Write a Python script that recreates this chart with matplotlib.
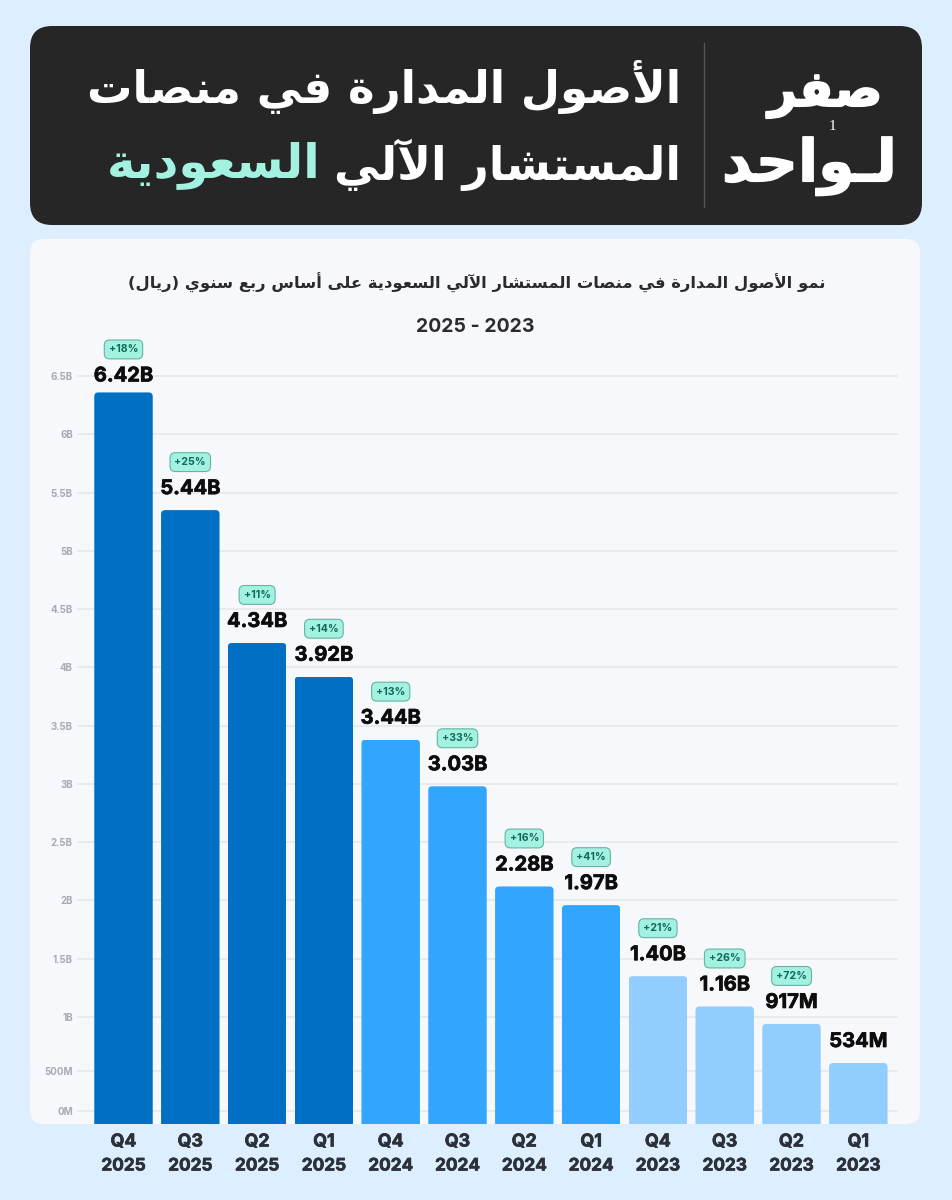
#!/usr/bin/env python3
from __future__ import annotations

import matplotlib

matplotlib.use("Agg")
import matplotlib.patheffects as pe
import matplotlib.pyplot as plt
from matplotlib.patches import FancyBboxPatch
from matplotlib.transforms import IdentityTransform

QUARTERS = ["Q4", "Q3", "Q2", "Q1", "Q4", "Q3", "Q2", "Q1", "Q4", "Q3", "Q2", "Q1"]
YEARS = ["2025", "2025", "2025", "2025", "2024", "2024", "2024", "2024", "2023", "2023", "2023", "2023"]
# heights as they stand against the gridlines, the printed labels do not quite agree with them
BAR_HEIGHTS = [6.36, 5.35, 4.21, 3.92, 3.38, 2.98, 2.12, 1.96, 1.35, 1.09, 0.94, 0.605]
VALUE_LABELS = ["6.42B", "5.44B", "4.34B", "3.92B", "3.44B", "3.03B", "2.28B", "1.97B", "1.40B", "1.16B", "917M", "534M"]
GROWTH_LABELS = ["+18%", "+25%", "+11%", "+14%", "+13%", "+33%", "+16%", "+41%", "+21%", "+26%", "+72%", None]
BAR_COLORS = ["#006fc4"] * 4 + ["#32a6ff"] * 4 + ["#91ceff"] * 4
# the axis in the picture is uneven at the bottom: 0M and 500M are not at scale
TICK_POSITIONS = [0.19, 0.54, 1, 1.5, 2, 2.5, 3, 3.5, 4, 4.5, 5, 5.5, 6, 6.5]
TICK_LABELS = ["0M", "500M", "1B", "1.5B", "2B", "2.5B", "3B", "3.5B", "4B", "4.5B", "5B", "5.5B", "6B", "6.5B"]

TITLE_LINE_1 = "الأصول المدارة في منصات"
TITLE_LINE_2 = "المستشار الآلي"
TITLE_ACCENT = "السعودية"
SUBTITLE = "نمو الأصول المدارة في منصات المستشار الآلي السعودية على أساس ربع سنوي (ريال)"
DATE_RANGE = "2025 - 2023"
LOGO_TOP = "صفر"
LOGO_BOTTOM = "لـواحد"

LATIN_FONT = "Inter"
ARABIC_FONT = "DejaVu Sans"
PAGE = "#ddefff"
CARD = "#f7f8fb"
DARK = "#262626"
MINT = "#a3f1e0"

W, H = 953, 1200

# unicode start of the presentation forms: isolated, final, and initial, medial if dual joining
FORMS = {
    "ء": (0xFE80, 1), "آ": (0xFE81, 2), "أ": (0xFE83, 2), "ؤ": (0xFE85, 2), "إ": (0xFE87, 2),
    "ئ": (0xFE89, 4), "ا": (0xFE8D, 2), "ب": (0xFE8F, 4), "ة": (0xFE93, 2), "ت": (0xFE95, 4),
    "ث": (0xFE99, 4), "ج": (0xFE9D, 4), "ح": (0xFEA1, 4), "خ": (0xFEA5, 4), "د": (0xFEA9, 2),
    "ذ": (0xFEAB, 2), "ر": (0xFEAD, 2), "ز": (0xFEAF, 2), "س": (0xFEB1, 4), "ش": (0xFEB5, 4),
    "ص": (0xFEB9, 4), "ض": (0xFEBD, 4), "ط": (0xFEC1, 4), "ظ": (0xFEC5, 4), "ع": (0xFEC9, 4),
    "غ": (0xFECD, 4), "ف": (0xFED1, 4), "ق": (0xFED5, 4), "ك": (0xFED9, 4), "ل": (0xFEDD, 4),
    "م": (0xFEE1, 4), "ن": (0xFEE5, 4), "ه": (0xFEE9, 4), "و": (0xFEED, 2), "ى": (0xFEEF, 2),
    "ي": (0xFEF1, 4),
}
LAM_ALEF = {"آ": 0xFEF5, "أ": 0xFEF7, "إ": 0xFEF9, "ا": 0xFEFB}
KASHIDA = "ـ"


def shape_arabic(text: str) -> str:
    """matplotlib has no Arabic shaping, so pick joined forms and lay them out right to left."""
    units = []
    i = 0
    while i < len(text):
        if text[i] == "ل" and text[i + 1 : i + 2] in LAM_ALEF and i + 1 < len(text):
            units.append(("lig", text[i + 1]))
            i += 2
        else:
            units.append(("chr", text[i]))
            i += 1

    def joins_forward(unit) -> bool:
        kind, char = unit
        return kind == "chr" and (char == KASHIDA or FORMS.get(char, (0, 0))[1] == 4)

    def joins_back(unit) -> bool:
        kind, char = unit
        return kind == "lig" or char == KASHIDA or FORMS.get(char, (0, 0))[1] >= 2

    out = []
    for n, unit in enumerate(units):
        kind, char = unit
        prev_joins = n > 0 and joins_forward(units[n - 1]) and joins_back(unit)
        next_joins = n + 1 < len(units) and joins_forward(unit) and joins_back(units[n + 1])
        if kind == "lig":
            out.append(chr(LAM_ALEF[char] + (1 if prev_joins else 0)))
        elif char in FORMS:
            start, count = FORMS[char]
            if count == 1:
                offset = 0
            elif count == 2:
                offset = 1 if prev_joins else 0
            else:
                offset = {(False, False): 0, (True, False): 1, (False, True): 2, (True, True): 3}[
                    (prev_joins, next_joins)
                ]
            out.append(chr(start + offset))
        else:
            out.append({"(": ")", ")": "("}.get(char, char))
    return "".join(reversed(out))


def fit_width(fig, text, width_px: float) -> None:
    renderer = fig.canvas.get_renderer()
    current = text.get_window_extent(renderer).width
    text.set_fontsize(text.get_fontsize() * width_px / current)


def heavier(width: float, color: str) -> list:
    return [pe.withStroke(linewidth=width, foreground=color)]


def rounded_box(ax, x0, y0, x1, y1, radius, **kwargs):
    box = FancyBboxPatch(
        (x0, y0), x1 - x0, y1 - y0,
        boxstyle=f"round,pad=0,rounding_size={radius}",
        **kwargs,
    )
    ax.add_patch(box)
    return box


def draw_page(fig, page) -> None:
    rounded_box(page, 30, 26, 922, 225, 22, facecolor=DARK, edgecolor="none")
    rounded_box(page, 30, 239, 920, 1124, 14, facecolor=CARD, edgecolor="none")
    page.plot([704, 704], [43, 207], color="#565656", linewidth=1)

    line1 = page.text(681, 87, shape_arabic(TITLE_LINE_1), color="white", ha="right", va="center",
                      family=ARABIC_FONT, weight="bold", fontsize=30)
    fit_width(fig, line1, 593)
    line2 = page.text(681, 165, shape_arabic(TITLE_LINE_2), color="white", ha="right", va="center",
                      family=ARABIC_FONT, weight="bold", fontsize=30)
    fit_width(fig, line2, 346)
    accent = page.text(321, 165, shape_arabic(TITLE_ACCENT), color=MINT, ha="right", va="center",
                       family=ARABIC_FONT, weight="bold", fontsize=30)
    fit_width(fig, accent, 214)

    logo_top = page.text(882, 94, shape_arabic(LOGO_TOP), color="white", ha="right", va="center",
                         family=ARABIC_FONT, weight="bold", fontsize=30,
                         path_effects=heavier(1.5, "white"))
    fit_width(fig, logo_top, 114)
    logo_bottom = page.text(897, 166, shape_arabic(LOGO_BOTTOM), color="white", ha="right", va="center",
                            family=ARABIC_FONT, weight="bold", fontsize=30,
                            path_effects=heavier(1.0, "white"))
    fit_width(fig, logo_bottom, 175)
    page.text(832, 127, "1", color="white", ha="center", va="center",
              family="Liberation Serif", fontsize=11)

    subtitle = page.text(477, 283, shape_arabic(SUBTITLE), color="#2b2b2b", ha="center", va="center",
                         family=ARABIC_FONT, weight="bold", fontsize=12)
    fit_width(fig, subtitle, 696)
    page.text(475, 327, DATE_RANGE, color="#2b2b2b", ha="center", va="center",
              family=LATIN_FONT, weight="bold", fontsize=14)

    for i, (quarter, year) in enumerate(zip(QUARTERS, YEARS)):
        x = 123.5 + 66.8 * i
        page.text(x, 1142, quarter, color="#2c3038", ha="center", va="center",
                  family=LATIN_FONT, weight="bold", fontsize=12.8,
                  path_effects=heavier(0.5, "#2c3038"))
        page.text(x, 1166, year, color="#2c3038", ha="center", va="center",
                  family=LATIN_FONT, weight="bold", fontsize=12.4,
                  path_effects=heavier(0.5, "#2c3038"))


def round_bar_tops(ax, bars, radius: float = 4) -> None:
    for bar in bars:
        box = bar.get_window_extent()
        clip = FancyBboxPatch(
            (box.x0, box.y0 - 20), box.width, box.height + 20,
            boxstyle=f"round,pad=0,rounding_size={radius}",
            transform=IdentityTransform(),
        )
        bar.set_clip_path(clip)


def draw_chart(fig) -> None:
    # axes spans 77..898 px across and 340..1124 px down
    ax = fig.add_axes([77 / W, 1 - 1124 / H, 821 / W, 784 / H])
    ax.patch.set_visible(False)
    ax.set_xlim(-0.696, 11.594)
    ax.set_ylim(0.0815, 6.81)

    bars = ax.bar(range(len(BAR_HEIGHTS)), BAR_HEIGHTS, width=0.875, color=BAR_COLORS, zorder=3)
    round_bar_tops(ax, bars)

    ax.set_xticks([])
    ax.set_yticks(TICK_POSITIONS, TICK_LABELS)
    ax.tick_params(axis="y", length=0, pad=3, labelsize=7, labelcolor="#a8abb2")
    for label in ax.get_yticklabels():
        label.set_family(LATIN_FONT)
        label.set_fontweight("bold")
    ax.grid(axis="y", color="#e5e7eb", linewidth=1.1, zorder=1)
    ax.set_axisbelow(True)
    for spine in ax.spines.values():
        spine.set_visible(False)

    for i, (height, value, growth) in enumerate(zip(BAR_HEIGHTS, VALUE_LABELS, GROWTH_LABELS)):
        label_gap = 16 if i == 0 else 21
        ax.annotate(value, (i, height), xytext=(0, label_gap), textcoords="offset pixels",
                    ha="center", va="center", family=LATIN_FONT, weight="bold", fontsize=14.5,
                    color="#0d0d0d", zorder=5, path_effects=heavier(0.5, "#0d0d0d"))
        if growth is None:
            continue
        ax.annotate(growth, (i, height), xytext=(0, label_gap + 27), textcoords="offset pixels",
                    ha="center", va="center", family=LATIN_FONT, weight="bold", fontsize=7.6,
                    color="#0e6b55", zorder=6, annotation_clip=False,
                    bbox=dict(boxstyle="round,pad=0.42,rounding_size=0.5", facecolor=MINT,
                              edgecolor="#63b5a2", linewidth=0.8))


def main() -> None:
    fig = plt.figure(figsize=(W / 100, H / 100), dpi=100, facecolor=PAGE)
    fig.canvas.draw()
    page = fig.add_axes([0, 0, 1, 1])
    page.set_xlim(0, W)
    page.set_ylim(H, 0)
    page.axis("off")

    draw_page(fig, page)
    draw_chart(fig)
    fig.savefig("out.png", dpi=100, facecolor=PAGE)


if __name__ == "__main__":
    main()
